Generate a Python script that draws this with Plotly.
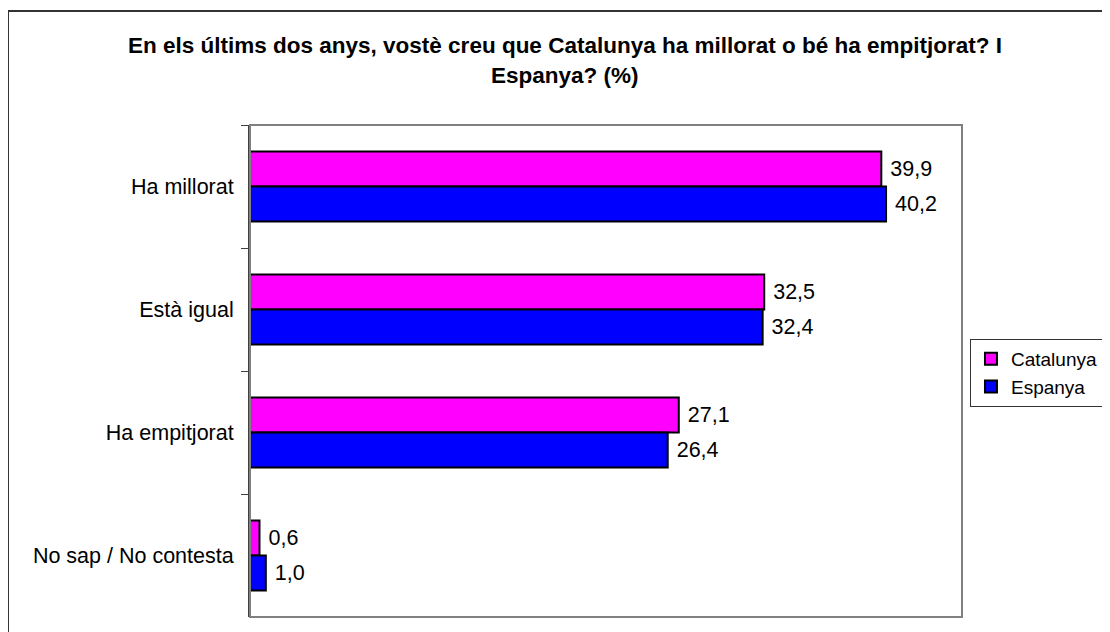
import plotly.graph_objects as go

# Survey answers, percentages (decimal comma in the output)
categories = ["Ha millorat", "Està igual", "Ha empitjorat", "No sap / No contesta"]
catalunya = [39.9, 32.5, 27.1, 0.6]
espanya = [40.2, 32.4, 26.4, 1.0]

title_line1 = "En els últims dos anys, vostè creu que Catalunya ha millorat o bé ha empitjorat? I"
title_line2 = "Espanya? (%)"

FONT = "Arial, Liberation Sans, sans-serif"

fig = go.Figure()
for name, vals, color in [("Catalunya", catalunya, "#FF00FF"),
                          ("Espanya", espanya, "#0000FF")]:
    fig.add_trace(go.Bar(
        y=categories, x=vals, name=name, orientation="h",
        marker=dict(color=color, line=dict(color="black", width=2)),
        texttemplate="\u00a0%{x:.1f}", textposition="outside",
        textfont=dict(size=21.5, color="black", family=FONT),
        cliponaxis=False,
    ))

# title as two centred lines, Excel-style spacing
for txt, yy in [(title_line1, 1.1626), (title_line2, 1.1016)]:
    fig.add_annotation(text=f"<b>{txt}</b>", xref="paper", yref="paper",
                       x=0.4424, y=yy, xanchor="center", yanchor="middle",
                       showarrow=False,
                       font=dict(size=22.5, color="black", family=FONT))

# outer chart frame and plot-area frame
fig.add_shape(type="rect", xref="paper", yref="paper",
              x0=-0.3399, x1=1.25, y0=-0.1, y1=1.2317,
              line=dict(color="#333333", width=2), layer="below")
fig.add_shape(type="rect", xref="paper", yref="paper",
              x0=0, x1=1, y0=0, y1=1,
              line=dict(color="#808080", width=2))

# page body has an 8px margin, so everything sits 8px up/left of the reference
fig.update_layout(
    width=1110, height=632,
    margin=dict(l=242, r=156, t=117, b=23, autoexpand=False),
    paper_bgcolor="white", plot_bgcolor="white",
    barmode="group", bargap=0.43, bargroupgap=0,
    separators=",.",
    font=dict(family=FONT, size=21, color="black"),
    showlegend=True,
    legend=dict(x=1.0112, y=0.565, xanchor="left", yanchor="top",
                bgcolor="white", bordercolor="#333333", borderwidth=1,
                font=dict(size=19, family=FONT), tracegroupgap=0),
    xaxis=dict(range=[0, 45], showgrid=False, showticklabels=False,
               zeroline=False, ticks=""),
    yaxis=dict(autorange="reversed", showgrid=False, showline=True,
               linecolor="#404040", linewidth=2,
               ticks="outside", tickson="boundaries", ticklen=7,
               tickcolor="#404040", tickwidth=1,
               tickfont=dict(size=21.5, family=FONT), ticklabelstandoff=10),
)

fig.write_html("out.html")
